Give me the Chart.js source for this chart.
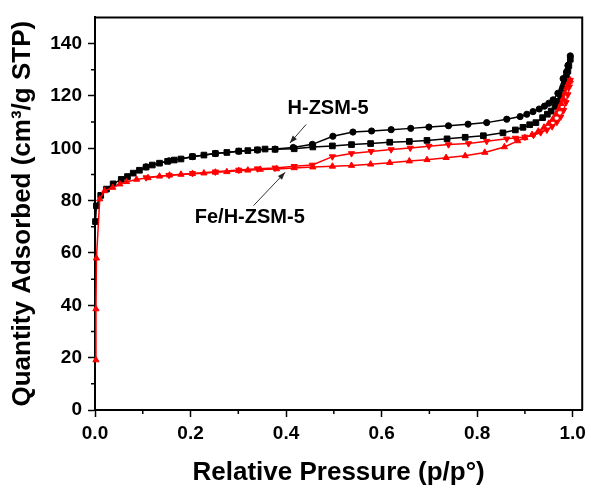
<!DOCTYPE html>
<html>
<head>
<meta charset="utf-8">
<title>N2 isotherms</title>
<script src="https://cdn.jsdelivr.net/npm/chart.js@4.4.1/dist/chart.umd.min.js"></script>
<style>
  html, body { margin: 0; padding: 0; background: #fff; }
  canvas { display: block; }
</style>
</head>
<body>
<canvas id="isothermChart" width="591" height="490"></canvas>
<script>
// H-ZSM-5, adsorption branch (p/p0, cm3/g STP)
const hzsmAdsP = [0.001, 0.003, 0.012, 0.024, 0.038, 0.055, 0.068, 0.080, 0.093, 0.107, 0.120, 0.135, 0.152,
    0.166, 0.180, 0.204, 0.228, 0.252, 0.276, 0.301, 0.320, 0.340, 0.356, 0.377, 0.417, 0.456, 0.497, 0.537,
    0.577, 0.617, 0.658, 0.695, 0.737, 0.775, 0.813, 0.854, 0.880, 0.896, 0.910, 0.923, 0.937, 0.947, 0.955,
    0.963, 0.969, 0.975, 0.980, 0.984, 0.987, 0.990, 0.992, 0.995];
const hzsmAdsQ = [72.0, 78.0, 82.0, 84.4, 86.4, 88.1, 89.2, 90.5, 91.6, 92.8, 93.6, 94.3, 95.0,
    95.5, 95.9, 96.8, 97.4, 98.0, 98.4, 98.9, 99.1, 99.4, 99.7, 99.6, 99.8, 100.5, 100.9, 101.4,
    101.8, 102.3, 102.6, 103.0, 103.6, 104.2, 104.8, 105.9, 107.0, 108.0, 109.0, 109.8, 111.7, 113.0, 114.2,
    116.0, 117.9, 120.0, 122.9, 125.0, 127.3, 129.5, 131.6, 134.0];

// H-ZSM-5, desorption branch
const hzsmDesP = [0.995, 0.990, 0.987, 0.980, 0.969, 0.959, 0.950, 0.941, 0.930, 0.917, 0.904, 0.890, 0.862,
    0.820, 0.781, 0.740, 0.699, 0.661, 0.620, 0.579, 0.540, 0.498, 0.455, 0.415, 0.377, 0.340, 0.301, 0.252,
    0.204, 0.155, 0.107];
const hzsmDesQ = [135.3, 131.6, 129.1, 126.6, 121.0, 118.5, 117.2, 116.1, 115.0, 114.0, 113.0, 112.1, 111.1,
    109.8, 109.2, 108.6, 108.1, 107.6, 107.1, 106.6, 106.2, 104.6, 101.5, 100.3, 99.7, 99.3, 98.9, 98.0,
    96.8, 95.2, 92.9];

// Fe/H-ZSM-5, adsorption branch
const feAdsP = [0.002, 0.002, 0.003, 0.010, 0.020, 0.037, 0.052, 0.066, 0.087, 0.111, 0.135, 0.156, 0.180,
    0.204, 0.228, 0.252, 0.276, 0.301, 0.320, 0.346, 0.380, 0.417, 0.456, 0.497, 0.537, 0.577, 0.617, 0.658,
    0.695, 0.735, 0.775, 0.816, 0.857, 0.885, 0.900, 0.915, 0.928, 0.940, 0.950, 0.958, 0.965, 0.971, 0.976,
    0.980, 0.984, 0.987, 0.990, 0.993, 0.995];
const feAdsQ = [19.1, 38.6, 58.0, 80.6, 83.7, 85.0, 86.3, 87.2, 88.1, 88.7, 89.3, 89.7, 90.0,
    90.3, 90.5, 90.8, 91.0, 91.4, 91.6, 91.9, 92.1, 92.5, 92.8, 93.1, 93.4, 93.9, 94.5, 95.1,
    95.6, 96.4, 97.1, 98.4, 100.5, 102.8, 104.0, 105.2, 106.5, 108.0, 109.5, 111.0, 113.0, 115.0, 117.0,
    119.0, 121.0, 123.0, 124.5, 125.5, 126.0];

// Fe/H-ZSM-5, desorption branch
const feDesP = [0.995, 0.993, 0.990, 0.986, 0.981, 0.975, 0.967, 0.957, 0.946, 0.933, 0.918, 0.900, 0.880,
    0.862, 0.820, 0.782, 0.740, 0.699, 0.660, 0.620, 0.578, 0.537, 0.497, 0.455, 0.417, 0.377, 0.340, 0.301,
    0.252, 0.204, 0.155, 0.107];
const feDesQ = [126.0, 123.5, 120.5, 117.5, 114.5, 112.0, 110.0, 108.3, 107.0, 106.0, 105.0, 104.3, 103.9,
    103.6, 102.7, 101.8, 101.4, 100.8, 100.1, 99.5, 98.8, 98.0, 96.8, 93.6, 93.1, 92.5, 92.2, 91.7,
    91.0, 90.4, 89.7, 88.8];

// sample labels with arrows: [text, label x, label y, arrow from x, from y, arrow tip x, tip y]
const sampleLabels = [
    ['H-ZSM-5', 0.488, 115.1, 0.442, 109.1, 0.408, 102.0],
    ['Fe/H-ZSM-5', 0.324, 73.7, 0.332, 78.1, 0.398, 90.8]
];

const xMinorTicks = [0.1, 0.3, 0.5, 0.7, 0.9];
const yMinorTicks = [10, 30, 50, 70, 90, 110, 130];

const FONT = "'Liberation Sans', Arial, Helvetica, sans-serif";
Chart.defaults.font.family = FONT;
Chart.defaults.color = '#000';

const toPoints = (xs, ys) => xs.map((x, i) => ({ x: x, y: ys[i] }));

function series(label, xs, ys, color, style, rotation, radius) {
    return {
        label: label,
        data: toPoints(xs, ys),
        showLine: true,
        borderColor: color,
        backgroundColor: color,
        borderWidth: 1.5,
        pointStyle: style,
        pointRotation: rotation,
        pointRadius: radius,
        pointBorderWidth: 1,
        pointBorderColor: color,
        pointBackgroundColor: color,
        clip: false
    };
}

// closes the box and adds the short minor ticks
const framePlugin = {
    id: 'frame',
    afterDraw(chart) {
        const { ctx, chartArea: a, scales } = chart;
        ctx.save();
        ctx.strokeStyle = '#000';
        ctx.lineWidth = 2;
        ctx.beginPath();
        ctx.moveTo(a.left, a.top);
        ctx.lineTo(a.right, a.top);
        ctx.lineTo(a.right, a.bottom);
        ctx.stroke();

        ctx.lineWidth = 1.5;
        ctx.beginPath();
        xMinorTicks.forEach(v => {
            const px = scales.x.getPixelForValue(v);
            ctx.moveTo(px, a.bottom);
            ctx.lineTo(px, a.bottom + 4);
        });
        yMinorTicks.forEach(v => {
            const py = scales.y.getPixelForValue(v);
            ctx.moveTo(a.left, py);
            ctx.lineTo(a.left - 4, py);
        });
        ctx.stroke();
        ctx.restore();
    }
};

const labelPlugin = {
    id: 'sampleLabels',
    afterDatasetsDraw(chart) {
        const { ctx, scales } = chart;
        ctx.save();
        sampleLabels.forEach(l => {
            const tx = scales.x.getPixelForValue(l[1]);
            const ty = scales.y.getPixelForValue(l[2]);
            ctx.fillStyle = '#000';
            ctx.font = 'bold 20px ' + FONT;
            ctx.textAlign = 'center';
            ctx.textBaseline = 'middle';
            ctx.fillText(l[0], tx, ty);

            const x0 = scales.x.getPixelForValue(l[3]);
            const y0 = scales.y.getPixelForValue(l[4]);
            const x1 = scales.x.getPixelForValue(l[5]);
            const y1 = scales.y.getPixelForValue(l[6]);
            const ang = Math.atan2(y1 - y0, x1 - x0);
            ctx.strokeStyle = '#333';
            ctx.lineWidth = 1;
            ctx.beginPath();
            ctx.moveTo(x0, y0);
            ctx.lineTo(x1, y1);
            ctx.stroke();
            ctx.fillStyle = '#222';
            ctx.beginPath();
            ctx.moveTo(x1, y1);
            ctx.lineTo(x1 - 8 * Math.cos(ang - 0.35), y1 - 8 * Math.sin(ang - 0.35));
            ctx.lineTo(x1 - 8 * Math.cos(ang + 0.35), y1 - 8 * Math.sin(ang + 0.35));
            ctx.closePath();
            ctx.fill();
        });
        ctx.restore();
    }
};

const data = {
    datasets: [
        series('Fe/H-ZSM-5 desorption', feDesP, feDesQ, '#ff0000', 'triangle', 180, 3.6),
        series('Fe/H-ZSM-5 adsorption', feAdsP, feAdsQ, '#ff0000', 'triangle', 0, 3.6),
        series('H-ZSM-5 desorption', hzsmDesP, hzsmDesQ, '#000000', 'circle', 0, 3.1),
        series('H-ZSM-5 adsorption', hzsmAdsP, hzsmAdsQ, '#000000', 'rect', 0, 4)
    ]
};

const config = {
    type: 'scatter',
    data: data,
    plugins: [framePlugin, labelPlugin],
    options: {
        responsive: false,
        animation: false,
        layout: { padding: { top: 7, right: 6, left: 0, bottom: 0 } },
        plugins: {
            legend: { display: false },
            tooltip: { enabled: false }
        },
        scales: {
            x: {
                type: 'linear',
                min: 0,
                max: 1.02,
                afterFit: (scale) => { scale.height = 80; },
                border: { display: true, color: '#000', width: 2 },
                grid: { display: true, drawOnChartArea: false, drawTicks: true, tickLength: 7, tickWidth: 1.5, color: '#000' },
                ticks: {
                    stepSize: 0.2,
                    includeBounds: false,
                    padding: 5,
                    maxRotation: 0,
                    autoSkip: false,
                    color: '#000',
                    font: { size: 19, weight: 'bold' },
                    callback: (v) => v.toFixed(1)
                },
                title: {
                    display: true,
                    text: 'Relative Pressure (p/p°)',
                    color: '#000',
                    font: { size: 26, weight: 'bold' },
                    padding: { top: 0, bottom: 2 }
                }
            },
            y: {
                type: 'linear',
                min: 0,
                max: 150,
                afterFit: (scale) => { scale.width = 95; },
                border: { display: true, color: '#000', width: 2 },
                grid: { display: true, drawOnChartArea: false, drawTicks: true, tickLength: 7, tickWidth: 1.5, color: '#000' },
                ticks: {
                    stepSize: 20,
                    includeBounds: false,
                    padding: 6,
                    color: '#000',
                    font: { size: 19, weight: 'bold' }
                },
                title: {
                    display: true,
                    text: 'Quantity Adsorbed (cm³/g STP)',
                    color: '#000',
                    font: { size: 26, weight: 'bold' },
                    padding: { top: 7, bottom: 0 }
                }
            }
        }
    }
};

const myChart = new Chart(document.getElementById('isothermChart'), config);
</script>
</body>
</html>
